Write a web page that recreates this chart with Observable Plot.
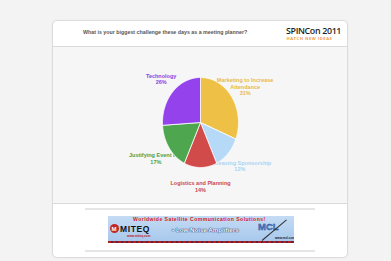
<!DOCTYPE html>
<html>
<head>
<meta charset="utf-8">
<script src="https://cdn.jsdelivr.net/npm/d3@7"></script>
<script src="https://cdn.jsdelivr.net/npm/@observablehq/plot@0.6"></script>
<style>
  html, body { margin: 0; padding: 0; }
  body { width: 391px; height: 261px; background: #f3f3f3; position: relative; overflow: hidden; font-family: "Liberation Sans", Arial, sans-serif; }
  .abs { position: absolute; }
  #card { left: 52px; top: 20px; width: 294px; height: 236px; background: #fff; border: 1px solid #dcdcdc; border-radius: 5px; box-shadow: 0 0 2px rgba(0,0,0,0.06); }
  #chartArea { left: 53px; top: 46px; width: 294px; height: 156px; background: #f6f6f6; border-top: 1px solid #dadada; border-bottom: 1px solid #dadada; }
  #title { left: 83px; top: 29px; font-size: 5.3px; font-weight: bold; color: #555; white-space: nowrap; }
  #brand { left: 286px; top: 24px; font-family: "Open Sans", sans-serif; font-weight: 600; font-size: 8.9px; color: #1e1e1e; letter-spacing: -0.35px; white-space: nowrap; }
  #tag { left: 286.5px; top: 35.5px; font-family: "Open Sans", sans-serif; font-weight: 700; font-size: 4.2px; color: #f0a048; letter-spacing: 0.5px; white-space: nowrap; }
  .rule { left: 85px; width: 230px; height: 2px; background: #e6e6e6; }
  #banner { left: 108px; top: 216px; width: 186px; height: 27px; background: linear-gradient(#c4dbf4, #a6c7ec); overflow: hidden; }
  #banner .t { position: absolute; white-space: nowrap; font-weight: bold; line-height: 1; }
</style>
</head>
<body>
<div id="card" class="abs"></div>
<div id="chartArea" class="abs"><div id="plot"></div></div>
<div id="title" class="abs"></div>
<div id="brand" class="abs"></div>
<div id="tag" class="abs"></div>
<div class="abs rule" style="top:207.5px"></div>
<div class="abs rule" style="top:250px"></div>
<div id="banner" class="abs">
  <div class="t" id="bTop" style="left:25px; top:1px; font-size:5.1px; color:#d42020; font-family:'Liberation Sans', sans-serif; letter-spacing:0.45px;"></div>
  <div class="t" style="left:2px; top:7.5px; width:9px; height:9px; border-radius:50%; background:#c0282a;"></div>
  <div class="t" style="left:3.6px; top:9.5px; font-size:6px; color:#fff; font-family:'Liberation Sans', sans-serif;">M</div>
  <div class="t" id="bMiteq" style="left:12px; top:9px; font-size:8.5px; color:#111; font-family:'Liberation Sans', sans-serif; letter-spacing:0.6px;"></div>
  <div class="t" id="bMiteqUrl" style="left:19px; top:18.5px; font-size:3.1px; color:#c02020;"></div>
  <div class="t" id="bLna" style="left:64px; top:11px; font-size:6.2px; color:#fff; font-family:'Liberation Sans', sans-serif; text-shadow: 0 0 1px #2a3a6a, 0 0 1px #2a3a6a, 0 0 1px #2a3a6a;"></div>
  <div class="t" id="bMcl" style="left:150px; top:6px; font-size:9.5px; color:#5a8ad8; font-family:'Liberation Sans', sans-serif; -webkit-text-stroke:0.35px #203a80;"></div>
  <div class="t" style="left:154px; top:24px; width:32px; height:1px; background:#333; transform:rotate(-40deg); transform-origin:left center;"></div>
  <div class="t" id="bMclUrl" style="left:167px; top:20.5px; font-size:3px; color:#223;"></div>
  <div class="t" style="left:0; top:25px; width:186px; height:2px; background:repeating-linear-gradient(90deg,#b02020 0 3px,#602040 3px 5px);"></div>
</div>
<script>
// ---- data ----
const categories = ["Marketing to Increase Attendance", "Increasing Sponsorship", "Logistics and Planning", "Justifying Event ROI", "Technology"];
const labelTexts = ["Marketing to Increase\nAttendance", "Increasing Sponsorship", "Logistics and Planning", "Justifying Event ROI", "Technology"];
const percents = [31, 12, 14, 17, 26];
const sliceColors = ["#eec146", "#b5d9f6", "#d24b4b", "#4ea64e", "#9342ec"];
const labelColors = ["#e9b94a", "#a9d3f4", "#cc4646", "#4a9f4a", "#8a3fe0"];
const titleText = "What is your biggest challenge these days as a meeting planner?";
const brandText = "SPINCon 2011";
const tagText = "HATCH NEW IDEAS";
const bannerTexts = ["Worldwide Satellite Communication Solutions!", "MITEQ", "www.miteq.com", "\u2022 Low Noise  Amplifiers", "MCL", "www.mcl.com"];

document.getElementById("title").textContent = titleText;
document.getElementById("brand").textContent = brandText;
document.getElementById("tag").textContent = tagText;
["bTop", "bMiteq", "bMiteqUrl", "bLna", "bMcl", "bMclUrl"].forEach((id, i) => document.getElementById(id).textContent = bannerTexts[i]);

// ---- pie geometry from data ----
const total = d3.sum(percents);
let acc = 0;
const slices = categories.map((c, i) => {
  const s = acc / total, e = (acc + percents[i]) / total;
  acc += percents[i];
  return {cat: c, label: labelTexts[i] + "\n" + percents[i] + "%", start: s, end: e, color: sliceColors[i], lcolor: labelColors[i]};
});
const pts = [];
for (const s of slices) {
  const a0 = s.start * 2 * Math.PI, a1 = s.end * 2 * Math.PI;
  const n = Math.max(2, Math.ceil((a1 - a0) / (Math.PI / 180)));
  pts.push({cat: s.cat, color: s.color, x: 0, y: 0});
  for (let k = 0; k <= n; k++) {
    const a = a0 + (a1 - a0) * k / n;
    pts.push({cat: s.cat, color: s.color, x: Math.sin(a), y: Math.cos(a)});
  }
  pts.push({cat: s.cat, color: s.color, x: 0, y: 0});
}
const labelR = 1.42;
const labels = slices.map(s => {
  const m = (s.start + s.end) * Math.PI;
  return {text: s.label, color: s.lcolor, x: labelR * Math.sin(m), y: labelR * Math.cos(m)};
});

const cx = 147, cy = 75, rx = 38, ry = 45;
const chart = Plot.plot({
  width: 294,
  height: 156,
  margin: 0,
  style: {background: "transparent", overflow: "visible"},
  x: {domain: [-1, 1], range: [cx - rx, cx + rx], axis: null},
  y: {domain: [-1, 1], range: [cy + ry, cy - ry], axis: null},
  color: {type: "identity"},
  marks: [
    Plot.text(labels, {x: "x", y: "y", text: "text", fill: "color", fontSize: 5.5, fontWeight: "bold", fontFamily: "Liberation Sans, Arial, sans-serif", lineHeight: 1.15}),
    Plot.line(pts, {x: "x", y: "y", z: "cat", fill: "color", stroke: "white", strokeWidth: 0.8, curve: "linear", strokeLinejoin: "round"})
  ]
});
document.getElementById("plot").appendChild(chart);
</script>
</body>
</html>
